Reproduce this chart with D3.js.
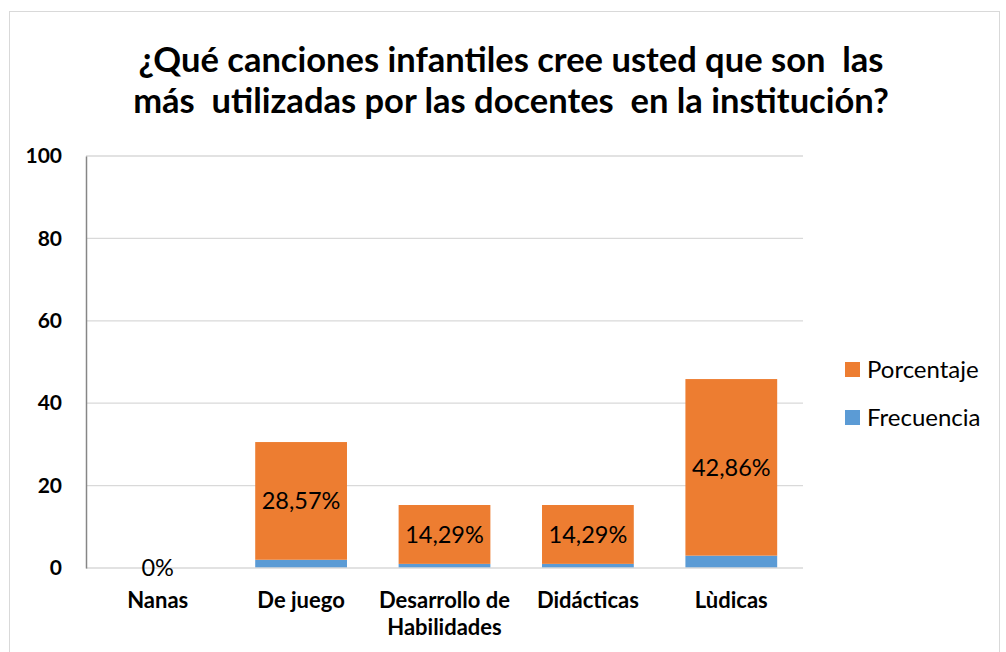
<!DOCTYPE html>
<html>
<head>
<meta charset="utf-8">
<script src="https://cdn.jsdelivr.net/npm/d3@7"></script>
<style>
  body { margin: 0; background: #fff; }
  text { font-family: Lato, "Open Sans", sans-serif; }
</style>
</head>
<body>
<svg id="chart"></svg>
<script>
// data
const categories = ['Nanas', 'De juego', 'Desarrollo de Habilidades', 'Didácticas', 'Lùdicas'];
const frecuencia = [0, 2, 1, 1, 3];
const porcentaje = [0, 28.57, 14.29, 14.29, 42.86];
const porcentajeLabels = ['0%', '28,57%', '14,29%', '14,29%', '42,86%'];
const yTicks = [0, 20, 40, 60, 80, 100];
const titleLines = ['¿Qué canciones infantiles cree usted que son  las', 'más  utilizadas por las docentes  en la institución?'];

const W = 1006, H = 652;
const margin = { top: 156, right: 203, bottom: 84, left: 86 };
const width = W - margin.left - margin.right;
const height = H - margin.top - margin.bottom;

const svg = d3.select('#chart').attr('width', W).attr('height', H);

// chart frame
svg.append('rect')
  .attr('x', 9.5).attr('y', 11.5)
  .attr('width', 990).attr('height', 660)
  .attr('fill', '#fff').attr('stroke', '#d9d9d9');

// title
svg.append('text')
  .attr('x', 511).attr('text-anchor', 'middle')
  .style('font-weight', 'bold').style('font-size', '34.5px').attr('fill', '#000')
  .selectAll('tspan').data(titleLines).enter().append('tspan')
  .attr('x', 511).attr('y', (d, i) => 72 + i * 41)
  .style('white-space', 'pre')
  .text(d => d);

const g = svg.append('g').attr('transform', `translate(${margin.left},${margin.top})`);

const x = d3.scaleBand().domain(categories).range([0, width]).paddingInner(0.36).paddingOuter(0.18);
const y = d3.scaleLinear().domain([0, 100]).range([height, 0]);

// gridlines
g.append('g')
  .selectAll('line').data(yTicks.filter(d => d > 0)).enter().append('line')
  .attr('x1', 0).attr('x2', width)
  .attr('y1', d => y(d)).attr('y2', d => y(d))
  .attr('stroke', '#d9d9d9').attr('stroke-width', 1.3);

// stacked bars
const rows = categories.map((c, i) => ({ cat: c, Frecuencia: frecuencia[i], Porcentaje: porcentaje[i] }));
const stack = d3.stack().keys(['Frecuencia', 'Porcentaje'])(rows);
const colors = { Frecuencia: '#5B9BD5', Porcentaje: '#ED7D31' };

g.selectAll('.series').data(stack).enter().append('g')
  .attr('fill', d => colors[d.key])
  .selectAll('rect').data(d => d).enter().append('rect')
  .attr('x', d => x(d.data.cat))
  .attr('width', x.bandwidth())
  .attr('y', d => y(d[1]))
  .attr('height', d => y(d[0]) - y(d[1]));

// bottom axis line
g.append('line')
  .attr('x1', 0).attr('x2', width)
  .attr('y1', y(0)).attr('y2', y(0))
  .attr('stroke', '#d9d9d9').attr('stroke-width', 1.5);

// left axis
const yAxis = g.append('g').call(d3.axisLeft(y).tickValues(yTicks).tickSize(0).tickPadding(24));
yAxis.select('.domain').attr('stroke', '#868686').attr('stroke-width', 1.5);
yAxis.selectAll('text').style('font-family', 'Lato, sans-serif').style('font-size', '21px')
  .style('font-weight', 'bold').attr('fill', '#000');

// data labels
const porcLayer = stack[1];
g.selectAll('.lbl').data(porcLayer).enter().append('text')
  .attr('x', d => x(d.data.cat) + x.bandwidth() / 2)
  .attr('y', d => (y(d[0]) + y(d[1])) / 2)
  .attr('dy', '0.35em')
  .attr('text-anchor', 'middle')
  .style('font-size', '23.5px').attr('fill', '#000')
  .text((d, i) => porcentajeLabels[i]);

// x labels
const xl = g.selectAll('.xl').data(categories).enter().append('text')
  .attr('text-anchor', 'middle')
  .style('font-size', '22px').style('font-weight', 'bold').attr('fill', '#000');
xl.each(function(d) {
  const lines = d === 'Desarrollo de Habilidades' ? ['Desarrollo de', 'Habilidades'] : [d];
  d3.select(this).selectAll('tspan').data(lines).enter().append('tspan')
    .attr('x', x(d) + x.bandwidth() / 2)
    .attr('y', (l, i) => height + 40 + i * 27)
    .text(l => l);
});

// legend
const legend = svg.append('g').attr('transform', 'translate(845,362)');
const legendItems = [['Porcentaje', colors.Porcentaje], ['Frecuencia', colors.Frecuencia]];
legendItems.forEach(([name, col], i) => {
  const it = legend.append('g').attr('transform', `translate(0,${i * 48})`);
  it.append('rect').attr('width', 15).attr('height', 15).attr('fill', col);
  it.append('text').attr('x', 22).attr('y', 8).attr('dy', '0.35em')
    .style('font-size', '24px').attr('fill', '#000').text(name);
});
</script>
</body>
</html>
